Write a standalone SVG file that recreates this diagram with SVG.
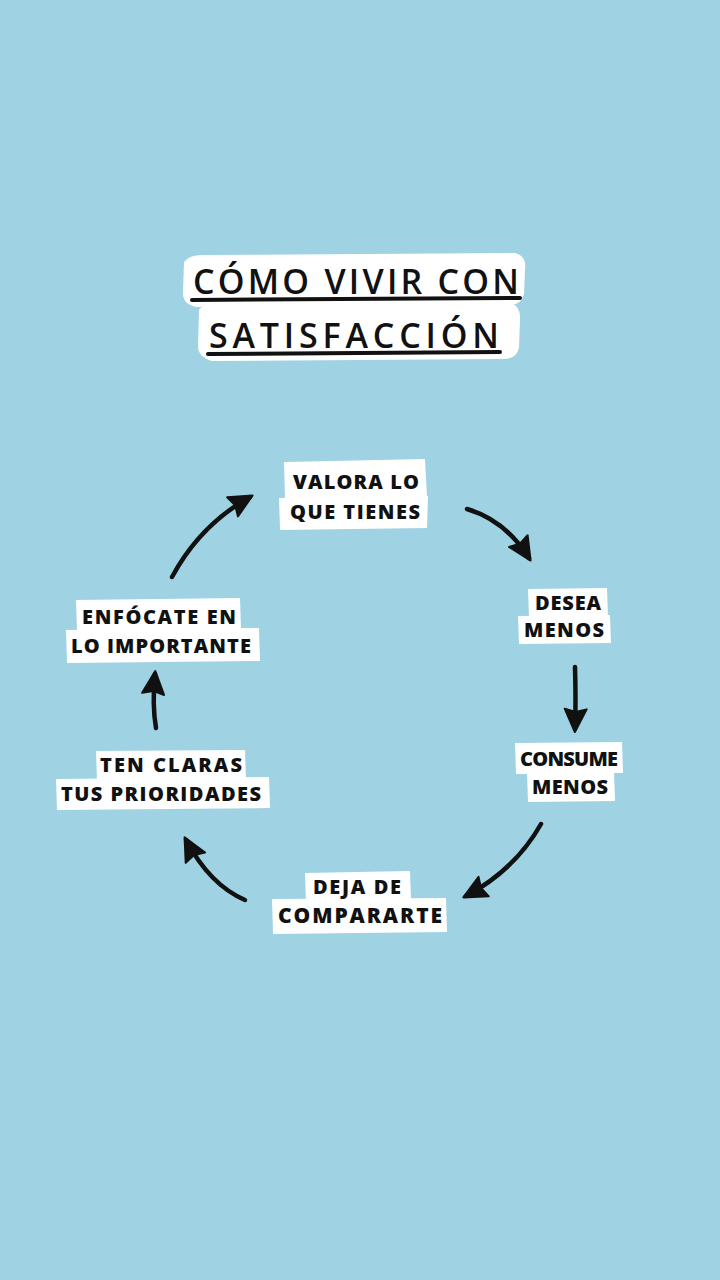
<svg xmlns="http://www.w3.org/2000/svg" width="720" height="1280" viewBox="0 0 720 1280">
<style>
.bg{fill:#9fd2e2}
.pad{fill:#ffffff}
.t{font-family:"Open Sans","Liberation Sans",sans-serif;font-weight:800;fill:#111111;text-anchor:middle}
.title{font-family:"Open Sans","Liberation Sans",sans-serif;font-weight:600;fill:#111111;text-anchor:middle;font-size:34px}
.ul{stroke:#111111;stroke-width:4;stroke-linecap:round;fill:none}
.arr{stroke:#111111;stroke-width:4.5;stroke-linecap:round;fill:none;marker-end:url(#head)}
</style>
<defs>
<marker id="head" markerUnits="userSpaceOnUse" markerWidth="28" markerHeight="28" viewBox="0 0 28 28" refX="22" refY="14" orient="auto">
<path d="M2,3 L25,14 L2,25 L5,14 Z" fill="#111111" stroke="#111111" stroke-width="2" stroke-linejoin="round"/>
</marker>
</defs>
<rect class="bg" x="0" y="0" width="720" height="1280"/>

<g id="title">
<path class="pad" d="M184,262 Q190,254 205,255 L515,253 Q527,256 525,270 L524,294 Q521,306 508,305 L196,307 Q182,304 183,292 Z"/>
<path class="pad" d="M199,310 Q204,302 218,303 L508,302 Q521,305 520,320 L519,348 Q516,360 502,359 L212,361 Q198,357 198,346 Z"/>
<text class="title" x="356" y="294" textLength="326" lengthAdjust="spacing">CÓMO VIVIR CON</text>
<path class="ul" d="M192,300 L520,298"/>
<text class="title" x="354" y="348" textLength="290" lengthAdjust="spacing">SATISFACCIÓN</text>
<path class="ul" d="M208,354 L500,352"/>
</g>

<g id="n1">
<path class="pad" d="M284,462 L425,459 L427,497 L285,499 Z"/>
<path class="pad" d="M279,498 L428,496 L427,528 L280,530 Z"/>
<text class="t" x="356" y="489" font-size="20" textLength="126" lengthAdjust="spacing">VALORA LO</text>
<text class="t" x="355" y="519" font-size="20" textLength="130" lengthAdjust="spacing">QUE TIENES</text>
</g>

<g id="n2">
<path class="pad" d="M528,589 L607,588 L608,617 L529,618 Z"/>
<path class="pad" d="M518,616 L610,615 L611,643 L519,644 Z"/>
<text class="t" x="568" y="610" font-size="20" textLength="66" lengthAdjust="spacing">DESEA</text>
<text class="t" x="564" y="637" font-size="20" textLength="80" lengthAdjust="spacing">MENOS</text>
</g>

<g id="n3">
<path class="pad" d="M515,743 L622,742 L623,773 L516,774 Z"/>
<path class="pad" d="M527,772 L614,771 L615,801 L528,802 Z"/>
<text class="t" x="569" y="766" font-size="20" textLength="98" lengthAdjust="spacing">CONSUME</text>
<text class="t" x="570" y="794" font-size="20" textLength="76" lengthAdjust="spacing">MENOS</text>
</g>

<g id="n4">
<path class="pad" d="M305,873 L410,871 L411,901 L306,902 Z"/>
<path class="pad" d="M272,899 L446,898 L447,932 L273,934 Z"/>
<text class="t" x="357" y="894" font-size="20" textLength="88" lengthAdjust="spacing">DEJA DE</text>
<text class="t" x="360" y="923" font-size="21" textLength="164" lengthAdjust="spacing">COMPARARTE</text>
</g>

<g id="n5">
<path class="pad" d="M96,751 L245,750 L246,780 L97,781 Z"/>
<path class="pad" d="M56,779 L269,777 L270,808 L57,810 Z"/>
<text class="t" x="171" y="772" font-size="20" textLength="142" lengthAdjust="spacing">TEN CLARAS</text>
<text class="t" x="161" y="801" font-size="20" textLength="200" lengthAdjust="spacing">TUS PRIORIDADES</text>
</g>

<g id="n6">
<path class="pad" d="M76,600 L240,598 L241,630 L77,632 Z"/>
<path class="pad" d="M66,630 L259,628 L260,661 L67,663 Z"/>
<text class="t" x="159" y="624" font-size="20" textLength="154" lengthAdjust="spacing">ENFÓCATE EN</text>
<text class="t" x="161" y="653" font-size="20" textLength="180" lengthAdjust="spacing">LO IMPORTANTE</text>
</g>

<g id="connectors">
<path class="arr" d="M467,509 Q505,520 529,558"/>
<path class="arr" d="M575,667 Q576,700 575,729"/>
<path class="arr" d="M541,824 Q515,870 466,896"/>
<path class="arr" d="M245,900 Q210,885 186,840"/>
<path class="arr" d="M156,728 Q152,705 155,674"/>
<path class="arr" d="M172,577 Q200,525 250,497"/>
</g>
</svg>
